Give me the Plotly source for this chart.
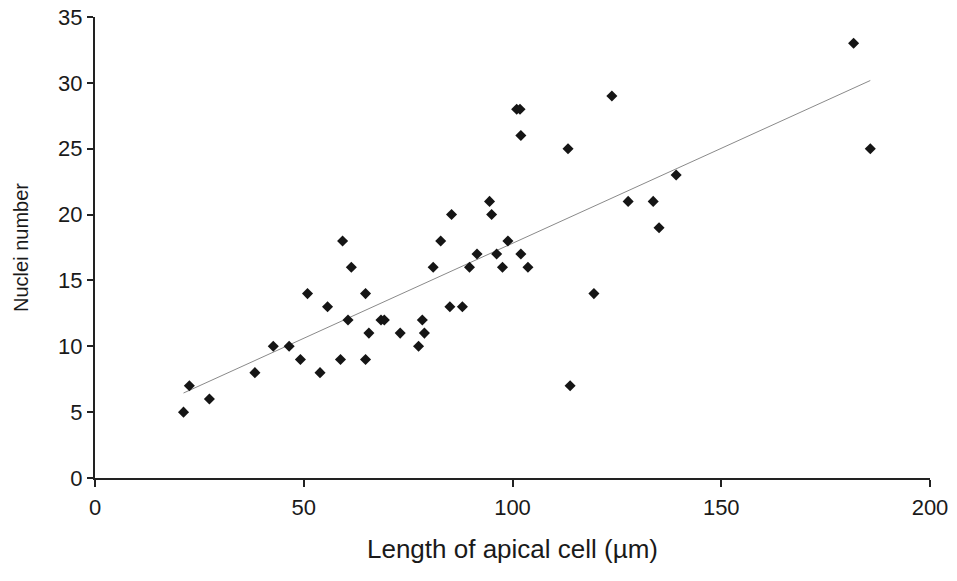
import numpy as np
import plotly.graph_objects as go

length_um = [21.2, 22.6, 27.4, 38.3, 42.7, 46.5, 49.2, 50.9, 53.9, 55.7,
             58.8, 59.3, 60.6, 61.4, 64.8, 64.8, 65.6, 68.5, 69.3, 73.1,
             77.5, 78.4, 78.9, 81.0, 82.8, 85.0, 85.4, 88.0, 89.7, 91.5,
             94.5, 95.0, 96.2, 97.6, 98.9, 101.0, 101.8, 102.0, 102.0, 103.7,
             113.3, 113.8, 119.5, 123.8, 127.7, 133.7, 135.1, 139.2, 181.7, 185.7]
nuclei = [5, 7, 6, 8, 10, 10, 9, 14, 8, 13,
          9, 18, 12, 16, 14, 9, 11, 12, 12, 11,
          10, 12, 11, 16, 18, 13, 20, 13, 16, 17,
          21, 20, 17, 16, 18, 28, 28, 26, 17, 16,
          25, 7, 14, 29, 21, 21, 19, 23, 33, 25]

x_ticks = [0, 50, 100, 150, 200]
y_ticks = [0, 5, 10, 15, 20, 25, 30, 35]

x = np.array(length_um)
y = np.array(nuclei)
slope, intercept = np.polyfit(x, y, 1)
xl = np.array([x.min(), x.max()])
yl = slope * xl + intercept

fig = go.Figure()
fig.add_trace(go.Scatter(x=xl, y=yl, mode="lines",
                         line=dict(color="#8a8a8a", width=1),
                         showlegend=False, hoverinfo="skip"))
fig.add_trace(go.Scatter(x=length_um, y=nuclei, mode="markers",
                         marker=dict(symbol="diamond", size=8.5, color="#151515"),
                         showlegend=False))

font = dict(family="Liberation Sans, Arial, sans-serif", size=22, color="#1a1a1a")
fig.update_layout(
    width=957, height=581,
    margin=dict(l=95, r=27, t=17, b=103),
    paper_bgcolor="white", plot_bgcolor="white",
    font=font,
    xaxis=dict(range=[0, 200], tickvals=x_ticks, ticktext=[str(v) for v in x_ticks],
               showgrid=False, zeroline=False, showline=True, linecolor="#222222",
               linewidth=2, ticks="outside", ticklen=7, tickwidth=1.5, tickcolor="#222222",
               ticklabelstandoff=2, ticklabeloverflow="allow", automargin=False,
               title=dict(text="Length of apical cell (µm)", standoff=20,
                          font=dict(size=26))),
    yaxis=dict(range=[0, 35], tickvals=y_ticks, ticktext=[str(v) for v in y_ticks],
               showgrid=False, zeroline=False, showline=True, linecolor="#222222",
               linewidth=2, ticks="outside", ticklen=6, tickwidth=1.5, tickcolor="#222222",
               ticklabelstandoff=0, ticklabeloverflow="allow", automargin=False,
               title=dict(text="Nuclei number", standoff=24,
                          font=dict(size=20))),
)
fig.write_html("out.html",
               config={"displayModeBar": False},
               post_script="document.body.style.margin='0';document.body.style.overflow='hidden';")
